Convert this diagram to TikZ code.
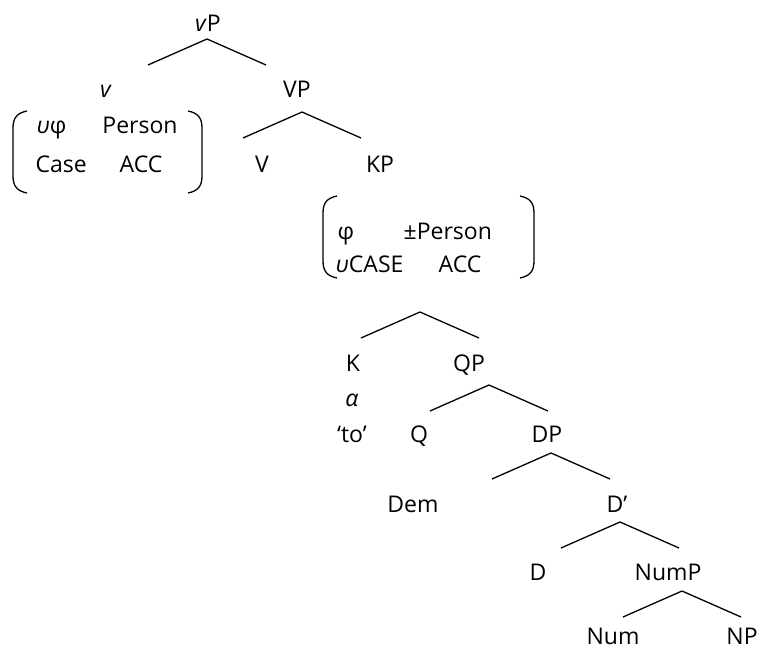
\documentclass[tikz,border=0pt]{standalone}
\usepackage{fontspec}
\setmainfont{Open Sans}
\begin{document}
\begin{tikzpicture}[x=1pt,y=-1pt,line width=1.3pt,
	every node/.style={font=\fontsize{23}{27}\selectfont,inner sep=0pt,anchor=base},
	feat/.style={anchor=base west}]
	\useasboundingbox (0,0) rectangle (762,650);
	% labels of the tree
	\node (vP) at (208,32) {\textit{v}P};
	\node (v) at (106,98) {\textit{v}};
	\node (VP) at (297,98) {VP};
	\node (V) at (262,172) {V};
	\node (KP) at (380,172) {KP};
	\node (K) at (353,371) {K};
	\node (QP) at (469,371) {QP};
	\node (alpha) at (352,406) {\textit{α}};
	\node (to) at (352,442) {‘to’};
	\node (Q) at (419,442) {Q};
	\node (DP) at (547,442) {DP};
	\node (Dem) at (413,512) {Dem};
	\node (Dbar) at (617,512) {D’};
	\node (D) at (538,580) {D};
	\node (NumP) at (668,580) {NumP};
	\node (Num) at (613,644) {Num};
	\node (NP) at (742,644) {NP};
	% features of v
	\node[feat] (vphi) at (36,133) {\textit{υ}φ};
	\node (vpers) at (140,133) {Person};
	\node[feat] (vcase) at (35,172) {Case};
	\node (vacc) at (141,172) {ACC};
	% features of KP
	\node[feat] (kphi) at (337,239) {φ};
	\node[feat] (kpers) at (403,239) {±Person};
	\node[feat] (kcase) at (335,272) {\textit{υ}CASE};
	\node[feat] (kacc) at (438,272) {ACC};
	% brackets
	\draw (27,111) .. controls (17,113) and (13,118) .. (13,128) -- (13,176) .. controls (13,186) and (17,191) .. (27,193);
	\draw (188,111) .. controls (198,113) and (202,118) .. (202,128) -- (202,176) .. controls (202,186) and (198,191) .. (188,193);
	\draw (337,196) .. controls (327,198) and (323,203) .. (323,213) -- (323,261) .. controls (323,271) and (327,276) .. (337,278);
	\draw (520,196) .. controls (530,198) and (534,203) .. (534,213) -- (534,261) .. controls (534,271) and (530,276) .. (520,278);
	% branches
	\coordinate (vPb) at (207,39);
	\coordinate (VPb) at (302,112);
	\coordinate (KPb) at (420,312);
	\coordinate (QPb) at (489,385);
	\coordinate (DPb) at (551,453);
	\coordinate (Dbarb) at (620,522);
	\coordinate (NumPb) at (682,591);
	\foreach \p in {vPb,VPb,KPb,QPb,DPb,Dbarb,NumPb}
		\draw (\p) ++(-59,26) -- (\p) -- ++(59,26);
\end{tikzpicture}
\end{document}
